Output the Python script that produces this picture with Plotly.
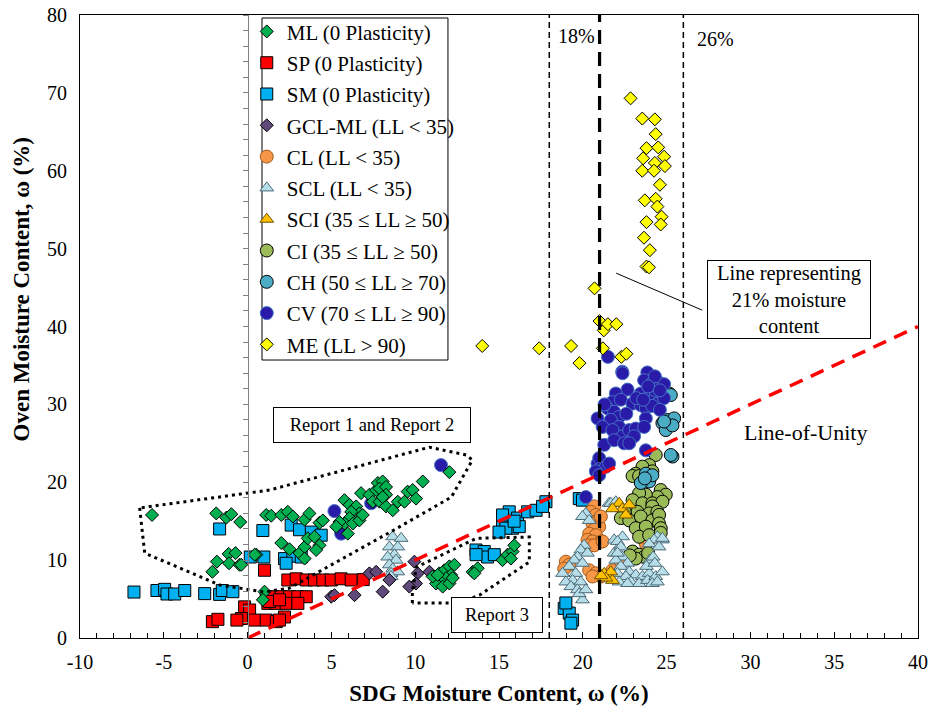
import plotly.graph_objects as go

# ---------------- data ----------------
ml_x = [-5.70,-1.87,-1.27,-0.97,-0.44,-2.1,-1.83,-1.13,-0.72,-1.11,-0.48,0.52,1.01,0.91,1.11,1.41,2.01,2.40,2.70,3.40,3.69,4.29,4.49,
        2.01,2.5,3.10,3.40,3.59,3.99,4.29,4.09,3.40,0.42,-0.38,5.78,6.08,6.48,6.67,6.18,6.08,5.78,6.28,6.67,6.87,5.48,5.98,5.29,
        6.77,7.27,7.67,7.77,8.06,7.87,8.26,7.47,7.87,8.26,8.66,8.26,8.06,8.96,9.36,9.55,9.85,10.05,10.45,12.04,
        11.44,11.74,12.04,12.34,12.14,11.84,11.54,11.24,11.04,11.64,12.04,12.24,11.34,13.43,13.73,13.53,15.21,15.51,15.81,15.91,15.71]
ml_y = [15.8,16.0,15.45,15.9,14.9,8.5,9.8,10.8,10.9,9.6,9.4,10.7,5.95,4.9,15.8,15.7,15.8,16.2,15.6,15.2,16.0,14.8,15.1,
        12.2,11.4,10.9,11.7,12.8,13.0,11.9,11.3,10.2,10.7,9.4,17.7,17.1,16.9,16.0,16.2,15.4,14.7,14.7,15.1,15.8,14.9,13.4,14.3,
        18.6,18.4,19.0,19.9,20.1,19.2,19.4,17.5,17.5,16.9,16.4,18.4,18.1,17.5,17.5,18.8,19.0,17.9,20.1,21.3,
        8.3,8.7,9.2,9.4,8.1,7.7,7.2,7.0,7.9,6.6,7.0,7.7,8.1,8.5,8.95,8.3,10.0,10.7,11.1,11.9,10.2]

sp_x = [1.01,2.40,2.90,3.50,3.99,4.49,4.99,5.58,6.18,6.9,1.11,1.51,2.0,2.5,3.0,3.5,1.21,1.71,2.30,3.0,
        -0.18,0.12,0.42,1.11,1.71,2.20,-0.37,-2.1,-1.77,-0.64,1.9,1.31,1.9]
sp_y = [8.7,7.45,7.6,7.45,7.45,7.45,7.45,7.6,7.45,7.5,5.3,5.3,5.3,5.3,5.3,5.3,4.45,4.45,4.45,4.45,
        4.0,3.6,2.3,2.3,2.1,2.7,2.5,2.1,2.4,2.3,2.3,4.7,4.9]

sm_x = [-6.78,-5.41,-4.95,-4.81,-4.35,-3.75,-2.56,-1.67,-1.51,-0.88,-1.67,0.91,0.16,0.97,2.60,3.10,3.80,4.39,2.20,2.70,3.20,2.30,
        13.63,14.12,14.32,14.72,13.63,15.21,15.61,16.11,15.81,15.41,16.21,15.21,16.71,17.21,17.8,17.6,19.79,19.98,
        18.89,19.19,19.39,18.99,19.29,15.0,15.9]
sm_y = [5.9,6.1,6.25,5.65,5.65,6.1,5.7,5.6,6.1,5.95,14.0,13.8,10.4,10.4,14.5,13.9,13.6,13.2,10.2,10.5,10.4,9.6,
        11.3,11.1,10.4,10.7,10.7,15.1,16.2,15.4,14.1,14.1,14.3,15.8,16.2,16.4,17.5,16.9,17.9,17.7,
        3.8,3.2,2.3,4.5,1.9,13.6,15.0]

gcl_x = [4.99,5.18,6.38,7.27,7.67,8.06,8.46,9.95,10.15,10.05,9.65,10.85,11.14]
gcl_y = [5.3,5.5,5.5,8.3,8.5,5.95,7.45,9.8,8.3,7.0,6.6,8.5,7.9]

cl_x = [20.68,20.48,20.78,20.88,20.58,20.98,20.68,20.38,20.78,20.28,20.58,21.08,20.38,20.68,18.99,19.19,18.89,20.38,20.78,21.08,
        20.58,21.77,22.27,23.76,23.96,21.08,21.18]
cl_y = [16.9,16.2,15.8,15.1,14.7,14.3,13.9,13.4,13.2,12.6,12.4,12.4,11.9,11.9,9.8,9.4,8.9,8.7,8.3,7.9,
        7.9,8.7,9.8,12.1,12.6,15.6,12.4]

scl_x = [8.66,9.16,8.46,8.96,8.76,8.36,8.86,8.46,8.66,8.56,8.96,8.56,
         20.18,19.98,20.38,20.08,19.88,20.28,19.68,19.48,19.98,19.19,18.79,19.58,19.39,18.99,19.88,19.29,19.68,19.98,19.78,20.18,
         21.57,21.67,21.97,24.75,24.45,24.25,23.96,24.55,24.75,21.87,22.17,21.87,22.37,21.97,22.67,22.27,22.77,22.07,23.16,22.57,
         23.56,23.96,22.87,23.36,23.86,24.35,24.75,22.17,22.67,24.15,24.45,22.37,22.07,22.27,22.07,24.0,24.2,23.8,24.3]
scl_y = [13.0,12.8,11.7,11.7,10.7,10.4,10.0,9.4,8.9,8.3,8.5,7.9,
         16.0,15.6,15.1,11.9,11.3,10.9,10.4,10.0,9.6,9.2,8.3,8.3,7.4,7.2,7.2,6.6,6.2,4.9,5.7,6.2,
         17.3,17.3,17.5,12.6,13.0,12.6,12.1,11.7,12.8,12.6,11.7,10.9,10.4,10.0,9.6,9.2,8.5,8.3,8.1,7.9,
         7.9,8.3,7.2,7.0,7.4,7.9,8.5,7.2,7.0,7.0,7.2,13.0,12.4,11.7,10.9,10.0,10.4,9.2,9.6]

sci_x = [22.17,22.37,21.77,22.77,22.57,21.28,21.57,21.77,21.67,21.38,21.1]
sci_y = [17.3,16.6,16.6,17.1,15.8,8.3,7.9,7.4,8.5,7.7,8.0]

ci_x = [24.35,23.96,23.56,23.16,24.15,22.97,23.36,24.65,24.95,24.45,23.76,23.36,22.97,23.56,24.15,24.75,24.15,22.77,23.26,23.96,
        24.45,22.5,22.27,22.77,23.46,24.15,24.55,23.16,23.76,24.55,24.65,23.36,23.96,24.65,22.97,23.36,23.66,23.16,23.9,22.8]
ci_y = [23.5,22.2,22.0,21.1,21.4,20.8,20.8,19.0,18.4,18.1,18.4,18.6,17.7,17.3,17.3,17.5,16.9,16.4,16.2,16.0,
        16.2,16.2,15.4,15.1,15.6,15.1,15.8,14.1,14.3,14.7,14.1,13.0,13.2,13.5,11.1,10.7,10.4,10.2,10.9,10.6]

ch_x = [25.15,25.25,25.05,25.45,24.75,24.95,25.35,24.85,25.35,25.25,23.76,23.96,23.46,24.15,23.7]
ch_y = [31.4,31.2,28.0,28.2,27.6,26.7,27.3,27.8,23.3,23.5,21.1,20.1,19.9,20.9,20.5]

cv_x = [21.5,22.35,23.85,22.37,23.66,24.15,24.55,24.85,22.67,21.97,23.46,24.05,24.35,24.75,24.05,24.45,24.85,21.77,22.27,22.96,
        23.46,23.76,24.15,21.47,21.87,22.17,21.67,22.17,20.88,21.18,21.77,22.37,22.77,23.16,23.76,23.66,23.06,21.28,21.87,22.47,
        22.77,23.76,20.88,21.28,20.98,21.08,21.38,20.78,20.98,21.57,20.18,11.54,5.18,5.58,7.37,24.3,23.2,22.6,21.3,24.6,
        23.9,24.6,23.6]
cv_y = [36.1,34.2,34.1,34.0,33.1,32.8,32.8,32.6,31.9,31.4,31.4,31.6,31.0,31.0,30.3,30.1,30.8,30.3,30.6,30.1,
        29.9,29.5,29.8,29.5,29.05,28.4,28.0,27.1,28.2,27.1,26.7,25.9,26.7,26.9,28.2,27.1,25.9,24.8,25.4,25.0,
        25.0,24.1,22.4,22.0,23.1,21.8,22.0,21.4,20.9,22.4,18.1,22.2,16.3,13.4,17.3,33.6,30.8,28.8,30.0,29.3,
        32.3,31.8,30.6]

me_x = [14.0,17.4,19.3,19.8,20.7,21.0,21.25,21.5,22.0,21.2,22.3,22.6,22.85,23.55,24.3,24.35,23.8,24.5,23.6,24.3,
        24.85,23.55,24.25,24.9,24.6,23.7,24.35,24.45,24.7,23.8,24.65,23.65,24.0,23.8,23.95]
me_y = [37.5,37.2,37.5,35.3,44.9,40.7,39.5,40.3,40.3,37.2,36.1,36.5,69.3,66.7,66.6,64.7,62.9,63.0,61.6,61.0,
        61.8,60.0,60.0,60.6,58.2,56.2,56.4,55.4,54.1,53.4,53.1,51.4,49.8,47.7,47.6]

x_ticks = [-10, -5, 0, 5, 10, 15, 20, 25, 30, 35, 40]
y_ticks = [0, 10, 20, 30, 40, 50, 60, 70, 80]
unity_x = [0, 40]
unity_y = [0, 40]
limits_x = [18, 21, 26]
report12_x = [-6.44,-6.14,-1.67,1.01,2.5,8.76,12.16,13.41,13.05,10.85,1.31,-6.44]
report12_y = [16.7,10.9,6.8,5.9,6.4,13.9,18.1,22.85,23.5,24.5,19.0,16.7]
report3_x = [9.83,9.83,10.07,13.65,16.81,16.81,13.83,12.63,9.83]
report3_y = [4.49,5.9,9.1,12.8,12.97,9.76,5.5,4.49,4.49]
callout_x = [21.99, 27.12]
callout_y = [46.85, 42.1]

FONT = "Liberation Serif"

series = [
    # name, x, y, symbol, fill, edge, size, legend rank
    ("SM (0 Plasticity)", sm_x, sm_y, "square", "#00B0F0", "#000000", 12, 3),
    ("SP (0 Plasticity)", sp_x, sp_y, "square", "#FF0000", "#000000", 12, 2),
    ("CL (LL < 35)", cl_x, cl_y, "circle", "#F79646", "#A05A20", 13, 5),
    ("CI (35 ≤ LL ≥ 50)", ci_x, ci_y, "circle", "#9BBB59", "#000000", 13, 8),
    ("SCL (LL < 35)", scl_x, scl_y, "triangle-up", "#B7DEE8", "#4A6A78", 12, 6),
    ("SCI (35 ≤ LL ≥ 50)", sci_x, sci_y, "triangle-up", "#FFC000", "#6A5000", 12, 7),
    ("CH (50 ≤ LL ≥ 70)", ch_x, ch_y, "circle", "#4BACC6", "#000000", 13, 9),
    ("CV (70 ≤ LL ≥ 90)", cv_x, cv_y, "circle", "#2A1AA8", "#4472C4", 13, 10),
    ("GCL-ML (LL < 35)", gcl_x, gcl_y, "diamond", "#604A7B", "#000000", 10, 4),
    ("ML (0 Plasticity)", ml_x, ml_y, "diamond", "#00B050", "#000000", 10, 1),
    ("ME (LL > 90)", me_x, me_y, "diamond", "#FFFF00", "#000000", 10, 11),
]

fig = go.Figure()
for name, xs, ys, sym, fill, edge, size, rank in series:
    fig.add_trace(go.Scatter(
        x=xs, y=ys, mode="markers", name=name, legendrank=rank, legendgroup=name,
        marker=dict(symbol=sym, color=fill, size=size, line=dict(color=edge, width=1)),
    ))

# reference lines (drawn on top)
fig.add_trace(go.Scatter(x=unity_x, y=unity_y, mode="lines", showlegend=False,
                         line=dict(color="#FF0000", width=3.5, dash="14px,9px")))
for lx in limits_x:
    bold = (lx == 21)
    fig.add_trace(go.Scatter(x=[lx, lx], y=[0, 80], mode="lines", showlegend=False,
                             line=dict(color="#000000", width=3.2 if bold else 1.5,
                                       dash="14px,8px" if bold else "6px,4px")))
fig.add_trace(go.Scatter(x=report12_x, y=report12_y, mode="lines", showlegend=False,
                         line=dict(color="#000000", width=3, dash="3px,4px")))
fig.add_trace(go.Scatter(x=report3_x, y=report3_y, mode="lines", showlegend=False,
                         line=dict(color="#000000", width=3, dash="3px,4px")))
fig.add_trace(go.Scatter(x=callout_x, y=callout_y, mode="lines", showlegend=False,
                         line=dict(color="#000000", width=1)))
# dummy trace for the inner y axis at x = 0
fig.add_trace(go.Scatter(x=[None], y=[None], yaxis="y2", showlegend=False, hoverinfo="skip"))

# legend frame
fig.add_shape(type="rect", xref="paper", yref="paper", x0=0.2172, x1=0.4391, y0=0.4462, y1=0.9952,
              line=dict(color="#000000", width=1), fillcolor="white", layer="above")

fig.add_annotation(x=19.6, y=77.3, text="18%", showarrow=False, font=dict(family=FONT, size=20, color="black"))
fig.add_annotation(x=27.9, y=76.9, text="26%", showarrow=False, font=dict(family=FONT, size=20, color="black"))
fig.add_annotation(x=33.3, y=26.4, text="Line-of-Unity", showarrow=False,
                   font=dict(family=FONT, size=22, color="black"))
fig.add_annotation(x=32.3, y=43.5, text="Line representing<br>21% moisture<br>content", showarrow=False,
                   font=dict(family=FONT, size=20.5, color="black"), bgcolor="white",
                   bordercolor="black", borderwidth=1, borderpad=1, width=160)
fig.add_annotation(x=7.4, y=27.3, text="Report 1 and Report 2", showarrow=False,
                   font=dict(family=FONT, size=18.5, color="black"), bgcolor="white",
                   bordercolor="black", borderwidth=1, borderpad=7, width=182)
fig.add_annotation(x=14.9, y=2.95, text="Report 3", showarrow=False,
                   font=dict(family=FONT, size=18.5, color="black"), bgcolor="white",
                   bordercolor="black", borderwidth=1, borderpad=7, width=76)
fig.add_annotation(xref="paper", yref="paper", x=-0.07, y=0.56, xanchor="center", yanchor="middle",
                   text="<b>Oven Moisture Content, ω (%)</b>", textangle=-90, showarrow=False,
                   font=dict(family=FONT, size=23, color="black"))

fig.update_layout(
    width=931, height=709,
    margin=dict(l=80, r=13, t=15, b=71, autoexpand=False),
    paper_bgcolor="white", plot_bgcolor="white",
    font=dict(family=FONT, size=20, color="black"),
    xaxis=dict(range=[-10, 40], tickvals=x_ticks, ticktext=[str(v) for v in x_ticks],
               showgrid=False, zeroline=False, automargin=False,
               showline=True, linecolor="#000000", linewidth=1, mirror=True,
               ticks="inside", ticklen=6, tickcolor="#000000", ticklabeloverflow="allow",
               ticklabelstandoff=6,
               minor=dict(dtick=1, tick0=0, ticks="inside", ticklen=5, tickcolor="#000000"),
               tickfont=dict(family=FONT, size=20),
               title=dict(text="<b>SDG Moisture Content, ω (%)</b>", font=dict(family=FONT, size=23), standoff=12)),
    yaxis=dict(range=[0, 80], tickvals=y_ticks, ticktext=[str(v) for v in y_ticks],
               showgrid=False, zeroline=False, automargin=False, ticklabeloverflow="allow",
               ticklabelstandoff=8,
               showline=True, linecolor="#000000", linewidth=1, mirror=True, ticks="",
               tickfont=dict(family=FONT, size=20)),
    yaxis2=dict(range=[0, 80], overlaying="y", anchor="free", position=0.2, side="left", automargin=False,
                showgrid=False, zeroline=False, showticklabels=False, showline=True,
                linecolor="#808080", linewidth=1, ticks="outside", ticklen=5, dtick=10, tickcolor="#808080",
                minor=dict(dtick=2, ticks="outside", ticklen=5, tickcolor="#808080")),
    legend=dict(x=0.199, y=1.006, xanchor="left", yanchor="top", bgcolor="rgba(0,0,0,0)",
                borderwidth=0, font=dict(family=FONT, size=21), maxheight=1.0,
                tracegroupgap=1),
    showlegend=True,
)

fig.write_html("out.html", config={"displayModeBar": False},
               post_script="document.body.style.margin='0px';document.body.style.overflow='hidden';")
